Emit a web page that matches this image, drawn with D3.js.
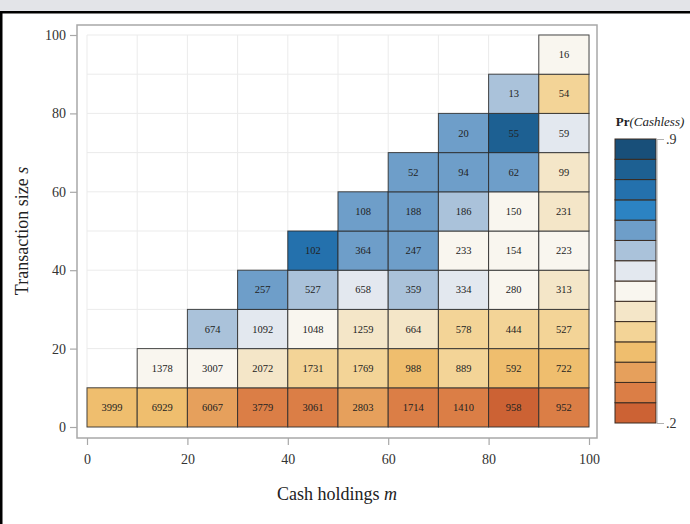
<!DOCTYPE html>
<html>
<head>
<meta charset="utf-8">
<script src="https://cdn.jsdelivr.net/npm/d3@7"></script>
<style>
  html, body { margin: 0; padding: 0; background: #fff; }
  svg { display: block; }
  text { font-family: "Liberation Serif", "Times New Roman", serif; }
</style>
</head>
<body>
<svg id="chart" width="690" height="524"></svg>
<script>
// ---- data ----
// rows indexed by transaction size bin (0-10, 10-20, ...); each row starts at column = row index
const xTicks = [0, 20, 40, 60, 80, 100];
const yTicks = [0, 20, 40, 60, 80, 100];
const legendTicks = [0.2, 0.9];
const binEdges = [0.25, 0.3, 0.35, 0.4, 0.45, 0.5, 0.55, 0.6, 0.65, 0.7, 0.75, 0.8, 0.85];
const binColors = ["#cc6234", "#db7e46", "#e6a05c", "#efbe6e", "#f3d497", "#f4e6c8",
                   "#f9f6ef", "#e3e8ef", "#aac2da", "#6e9ec9", "#2c83c3", "#2471ad",
                   "#1d6092", "#184f79"];

const counts0 = [3999, 6929, 6067, 3779, 3061, 2803, 1714, 1410, 958, 952];
const counts1 = [1378, 3007, 2072, 1731, 1769, 988, 889, 592, 722];
const counts2 = [674, 1092, 1048, 1259, 664, 578, 444, 527];
const counts3 = [257, 527, 658, 359, 334, 280, 313];
const counts4 = [102, 364, 247, 233, 154, 223];
const counts5 = [108, 188, 186, 150, 231];
const counts6 = [52, 94, 62, 99];
const counts7 = [20, 55, 59];
const counts8 = [13, 54];
const counts9 = [16];

const prob0 = [0.37, 0.38, 0.32, 0.27, 0.28, 0.31, 0.28, 0.27, 0.23, 0.28];
const prob1 = [0.52, 0.51, 0.47, 0.43, 0.42, 0.38, 0.42, 0.37, 0.38];
const prob2 = [0.62, 0.57, 0.52, 0.47, 0.48, 0.43, 0.42, 0.43];
const prob3 = [0.67, 0.62, 0.57, 0.63, 0.58, 0.53, 0.48];
const prob4 = [0.77, 0.67, 0.68, 0.52, 0.53, 0.52];
const prob5 = [0.67, 0.68, 0.62, 0.52, 0.47];
const prob6 = [0.66, 0.67, 0.68, 0.48];
const prob7 = [0.67, 0.82, 0.57];
const prob8 = [0.62, 0.43];
const prob9 = [0.52];

const countRows = [counts0, counts1, counts2, counts3, counts4, counts5, counts6, counts7, counts8, counts9];
const probRows = [prob0, prob1, prob2, prob3, prob4, prob5, prob6, prob7, prob8, prob9];
const binWidth = 10;

const cells = [];
countRows.forEach((row, r) => {
  row.forEach((n, k) => {
    const c = r + k;
    cells.push({ m0: c * binWidth, s0: r * binWidth, n: n, p: probRows[r][k] });
  });
});

// ---- drawing ----
const svg = d3.select("#chart");

// window chrome
svg.append("rect").attr("x", 0).attr("y", 0).attr("width", 690).attr("height", 11).attr("fill", "#e3e4e8");
svg.append("rect").attr("x", 0).attr("y", 11).attr("width", 690).attr("height", 2.5).attr("fill", "#000");
svg.append("rect").attr("x", 0).attr("y", 11).attr("width", 2.5).attr("height", 513).attr("fill", "#000");

const x = d3.scaleLinear().domain([0, 100]).range([87, 589]);
const y = d3.scaleLinear().domain([0, 100]).range([427, 35]);
const color = d3.scaleThreshold().domain(binEdges).range(binColors);

// frame
svg.append("rect").attr("x", 77).attr("y", 25).attr("width", 520).attr("height", 413)
  .attr("fill", "#fff").attr("stroke", "#a8a8a8").attr("stroke-width", 1.5);

// grid
const gridVals = d3.range(0, 101, 10);
svg.append("g").selectAll("line.gx").data(gridVals).join("line")
  .attr("x1", d => x(d)).attr("x2", d => x(d)).attr("y1", y(0)).attr("y2", y(100))
  .attr("stroke", "#ebebeb").attr("stroke-width", 1);
svg.append("g").selectAll("line.gy").data(gridVals).join("line")
  .attr("y1", d => y(d)).attr("y2", d => y(d)).attr("x1", x(0)).attr("x2", x(100))
  .attr("stroke", "#ebebeb").attr("stroke-width", 1);

// cells
const cg = svg.append("g");
cg.selectAll("rect").data(cells).join("rect")
  .attr("x", d => x(d.m0)).attr("y", d => y(d.s0 + binWidth))
  .attr("width", d => x(d.m0 + binWidth) - x(d.m0))
  .attr("height", d => y(d.s0) - y(d.s0 + binWidth))
  .attr("fill", d => color(d.p))
  .attr("stroke", "#2a2a2a").attr("stroke-opacity", 0.85).attr("stroke-width", 1);
cg.selectAll("text").data(cells).join("text")
  .attr("x", d => x(d.m0 + binWidth / 2)).attr("y", d => y(d.s0 + binWidth / 2))
  .attr("text-anchor", "middle").attr("dominant-baseline", "central")
  .attr("font-size", 10.5).attr("fill", "#222")
  .text(d => d.n);

// axes
const xAxis = svg.append("g").attr("transform", "translate(0,438)")
  .call(d3.axisBottom(x).tickValues(xTicks).tickSize(7).tickPadding(9));
const yAxis = svg.append("g").attr("transform", "translate(77,0)")
  .call(d3.axisLeft(y).tickValues(yTicks).tickSize(7).tickPadding(4));
[xAxis, yAxis].forEach(g => {
  g.select(".domain").remove();
  g.selectAll(".tick line").attr("stroke", "#a8a8a8").attr("stroke-width", 1.2);
  g.selectAll(".tick text").attr("font-family", "Liberation Serif, serif").attr("font-size", 14).attr("fill", "#333");
});

// axis titles
const xt = svg.append("text").attr("x", 337).attr("y", 500).attr("text-anchor", "middle")
  .attr("font-size", 18).attr("fill", "#222");
xt.append("tspan").text("Cash holdings ");
xt.append("tspan").attr("font-style", "italic").text("m");

const yt = svg.append("text").attr("transform", "translate(28,231) rotate(-90)")
  .attr("text-anchor", "middle").attr("font-size", 18).attr("fill", "#222");
yt.append("tspan").text("Transaction size ");
yt.append("tspan").attr("font-style", "italic").text("s");

// legend
const lx0 = 615, lx1 = 656;
const ly = d3.scaleLinear().domain([0.2, 0.9]).range([423, 139]);
const legendBins = d3.pairs([0.2, ...binEdges, 0.9]);
const lg = svg.append("g");
lg.selectAll("rect").data(legendBins).join("rect")
  .attr("x", lx0).attr("width", lx1 - lx0)
  .attr("y", d => ly(d[1])).attr("height", d => ly(d[0]) - ly(d[1]))
  .attr("fill", d => color((d[0] + d[1]) / 2))
  .attr("stroke", "#3a2a20").attr("stroke-width", 1);
lg.append("line").attr("x1", lx1 + 1).attr("x2", lx1 + 1).attr("y1", ly(0.9)).attr("y2", ly(0.2))
  .attr("stroke", "#b0b0b0").attr("stroke-width", 1.2);
const legAxis = svg.append("g").attr("transform", `translate(${lx1 + 1},0)`)
  .call(d3.axisRight(ly).tickValues(legendTicks).tickSize(7).tickPadding(2)
    .tickFormat(d => d3.format(".1f")(d).replace(/^0/, "")));
legAxis.select(".domain").remove();
legAxis.selectAll(".tick line").attr("stroke", "#b0b0b0");
legAxis.selectAll(".tick text").attr("font-family", "Liberation Serif, serif").attr("font-size", 14).attr("fill", "#333");

const lt = svg.append("text").attr("x", 650).attr("y", 126).attr("text-anchor", "middle")
  .attr("font-size", 13).attr("fill", "#222");
lt.append("tspan").attr("font-weight", "bold").text("Pr");
lt.append("tspan").attr("font-style", "italic").text("(Cashless)");
</script>
</body>
</html>
